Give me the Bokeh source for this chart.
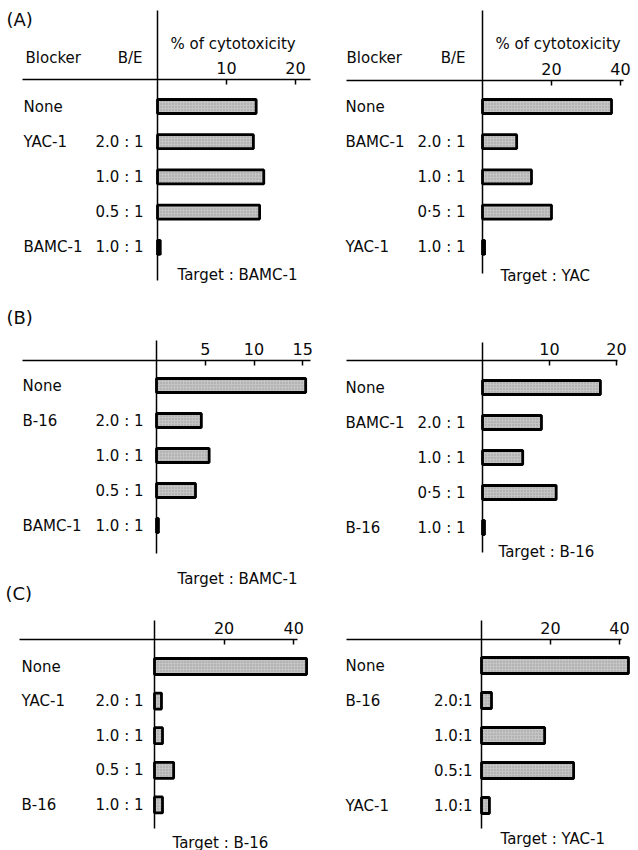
from bokeh.plotting import figure
from bokeh.models import Range1d, LinearAxis, FixedTicker
from bokeh.layouts import row
from bokeh.embed import file_html
from bokeh.resources import INLINE
from bokeh.core.properties import value

FONT = "DejaVu Sans"

# ---------------- data ----------------
a1_blocker = ["None", "YAC-1", "", "", "BAMC-1"]
a1_ratio = ["", "2.0 : 1", "1.0 : 1", "0.5 : 1", "1.0 : 1"]
a1_values = [14.3, 13.9, 15.4, 14.8, 0.4]
a1_ticks = [10, 20]
a1_target = "Target : BAMC-1"

a2_blocker = ["None", "BAMC-1", "", "", "YAC-1"]
a2_ratio = ["", "2.0 : 1", "1.0 : 1", "0·5 : 1", "1.0 : 1"]
a2_values = [37.4, 9.9, 14.2, 20.0, 0.6]
a2_ticks = [20, 40]
a2_target = "Target : YAC"

b1_blocker = ["None", "B-16", "", "", "BAMC-1"]
b1_ratio = ["", "2.0 : 1", "1.0 : 1", "0.5 : 1", "1.0 : 1"]
b1_values = [15.3, 4.6, 5.4, 4.0, 0.2]
b1_ticks = [5, 10, 15]
b1_target = "Target : BAMC-1"

b2_blocker = ["None", "BAMC-1", "", "", "B-16"]
b2_ratio = ["", "2.0 : 1", "1.0 : 1", "0·5 : 1", "1.0 : 1"]
b2_values = [17.6, 8.8, 6.0, 11.0, 0.3]
b2_ticks = [10, 20]
b2_target = "Target : B-16"

c1_blocker = ["None", "YAC-1", "", "", "B-16"]
c1_ratio = ["", "2.0 : 1", "1.0 : 1", "0.5 : 1", "1.0 : 1"]
c1_values = [43.7, 2.0, 2.3, 5.5, 2.3]
c1_ticks = [20, 40]
c1_target = "Target : B-16"

c2_blocker = ["None", "B-16", "", "", "YAC-1"]
c2_ratio = ["", "2.0:1", "1.0:1", "0.5:1", "1.0:1"]
c2_values = [42.6, 2.9, 18.3, 26.7, 2.3]
c2_ticks = [20, 40]
c2_target = "Target : YAC-1"

header_blocker = "Blocker"
header_ratio = "B/E"
header_axis = "% of cytotoxicity"
letters = ["(A)", "(B)", "(C)"]

# ---------------- layout geometry (reference pixel positions) ----------------
H = 850
LEFT_W, RIGHT_W = 319, 319
LEFT_DX, RIGHT_DX = 0, 319

GEOM = {
    "A1": dict(zero=157, scale=6.9, base=79, vtop=10, vbot=280, left=22, right=310,
               row0=106, step=35.2, barh=14, name_x=23, ratio_x=143, target=(177, 274),
               head=True, axis_x=170, blk_x=25, be_x=142),
    "A2": dict(zero=482, scale=3.45, base=80, vtop=10, vbot=273, left=346, right=623,
               row0=106, step=35.2, barh=14, name_x=345, ratio_x=465, target=(500, 275),
               head=True, axis_x=495, blk_x=346, be_x=465),
    "B1": dict(zero=156, scale=9.75, base=360, vtop=340, vbot=553, left=22, right=310,
               row0=385, step=35.0, barh=14, name_x=22, ratio_x=143, target=(177, 578),
               head=False),
    "B2": dict(zero=482, scale=6.7, base=360, vtop=342, vbot=552, left=346, right=617,
               row0=387, step=35.0, barh=14, name_x=345, ratio_x=465, target=(498, 551),
               head=False),
    "C1": dict(zero=154, scale=3.48, base=639, vtop=620, vbot=828, left=19, right=297,
               row0=666, step=34.6, barh=16, name_x=21, ratio_x=143, target=(172, 842),
               head=False),
    "C2": dict(zero=481, scale=3.45, base=639, vtop=620, vbot=828, left=346, right=621,
               row0=665, step=35.0, barh=16, name_x=345, ratio_x=472, target=(500, 838),
               head=False),
}
LETTER_POS = {"A": (6, 19), "B": (6, 317), "C": (5, 593)}


def make_fig(width):
    p = figure(width=width, height=H, output_backend="svg", toolbar_location=None,
               x_range=Range1d(0, width), y_range=Range1d(H, 0),
               x_axis_location=None, y_axis_location=None, min_border=0,
               background_fill_color="white", border_fill_color="white")
    p.outline_line_color = None
    p.xgrid.visible = False
    p.ygrid.visible = False
    return p


def txt(p, x, y, t, size="15px", align="left", **kw):
    p.text(x=x, y=y, text=t, text_font=value(FONT), text_font_size=size,
           text_align=align, text_baseline="middle", text_color="#0a0a0a", **kw)


def panel(p, key, dx, blockers, ratios, values, ticks, target):
    g = GEOM[key]
    W = p.width
    zx = g["zero"] - dx
    s = g["scale"]
    r0 = g["row0"]
    st = g["step"]
    xr = Range1d(-zx / s, (W - zx) / s)
    yr = Range1d((H - r0) / st, -r0 / st)
    p.extra_x_ranges = {**p.extra_x_ranges, key: xr}
    p.extra_y_ranges = {**p.extra_y_ranges, key: yr}

    rows = list(range(len(values)))
    p.hbar(y=rows, left=0, right=values, height=g["barh"] / st,
           x_range_name=key, y_range_name=key,
           fill_color="#c4c4c4", line_color="black", line_width=2.8,
           hatch_pattern="dot", hatch_color="#777777", hatch_scale=3,
           hatch_alpha=0.55, hatch_weight=1)

    # vertical zero line
    p.segment(x0=[0], x1=[0], y0=[g["vtop"]], y1=[g["vbot"]],
              x_range_name=key, line_color="black", line_width=1.5)

    ax = LinearAxis(x_range_name=key, fixed_location=g["base"],
                    bounds=((g["left"] - g["zero"]) / s, (g["right"] - g["zero"]) / s),
                    ticker=FixedTicker(ticks=ticks),
                    major_tick_in=5, major_tick_out=0,
                    minor_tick_in=0, minor_tick_out=0,
                    axis_line_width=1.5, major_tick_line_width=1.5,
                    axis_line_color="black", major_tick_line_color="black",
                    major_label_text_font=FONT, major_label_text_font_size="16px",
                    major_label_text_color="#0a0a0a", major_label_standoff=6)
    p.add_layout(ax, "above")

    # row labels
    txt(p, [g["name_x"] - dx] * len(blockers), rows, blockers, y_range_name=key)
    txt(p, [g["ratio_x"] - dx] * len(ratios), rows, ratios, align="right", y_range_name=key)

    tx, ty = g["target"]
    txt(p, [tx - dx], [ty], [target])

    if g["head"]:
        txt(p, [g["blk_x"] - dx], [57], [header_blocker])
        txt(p, [g["be_x"] - dx], [57], [header_ratio], align="right")
        txt(p, [g["axis_x"] - dx], [43], [header_axis])


left = make_fig(LEFT_W)
right = make_fig(RIGHT_W)

panel(left, "A1", LEFT_DX, a1_blocker, a1_ratio, a1_values, a1_ticks, a1_target)
panel(right, "A2", RIGHT_DX, a2_blocker, a2_ratio, a2_values, a2_ticks, a2_target)
panel(left, "B1", LEFT_DX, b1_blocker, b1_ratio, b1_values, b1_ticks, b1_target)
panel(right, "B2", RIGHT_DX, b2_blocker, b2_ratio, b2_values, b2_ticks, b2_target)
panel(left, "C1", LEFT_DX, c1_blocker, c1_ratio, c1_values, c1_ticks, c1_target)
panel(right, "C2", RIGHT_DX, c2_blocker, c2_ratio, c2_values, c2_ticks, c2_target)

for k, lab in zip(["A", "B", "C"], letters):
    lx, ly = LETTER_POS[k]
    txt(left, [lx - LEFT_DX], [ly], [lab], size="18px")

layout = row(left, right, spacing=0)
open("out.html", "w").write(file_html(layout, INLINE))
